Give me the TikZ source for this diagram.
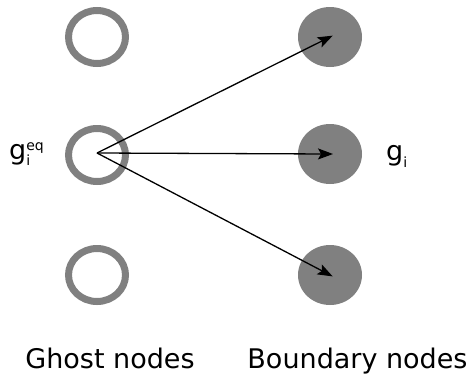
\documentclass[tikz,border=0pt]{standalone}
\usepackage{fontspec}
\setmainfont{DejaVu Sans}
\usetikzlibrary{shapes.geometric,arrows.meta}
\definecolor{nodegray}{HTML}{808080}
\newcommand{\smallidx}[1]{{\fontsize{14}{14}\selectfont #1}}
\begin{document}
\begin{tikzpicture}[x=1pt,y=-1pt,
  ghostnode/.style={ellipse,draw=nodegray,line width=7pt,minimum width=57pt,minimum height=53pt,inner sep=0pt},
  boundnode/.style={ellipse,fill=nodegray,minimum width=64pt,minimum height=60pt,inner sep=0pt},
  flow/.style={line width=1.3pt,-{Stealth[length=15pt,width=11pt,inset=3pt]},shorten >=-3pt},
  lbl/.style={inner sep=0pt,anchor=base,font=\fontsize{27}{31}\selectfont}]
\useasboundingbox (0,0) rectangle (470,378);
% ghost nodes (left column)
\node[ghostnode] (g1) at (97,37) {};
\node[ghostnode] (g2) at (97,155) {};
\node[ghostnode] (g3) at (97,275) {};
% boundary nodes (right column)
\node[boundnode] (b1) at (330,37) {};
\node[boundnode] (b2) at (330,154) {};
\node[boundnode] (b3) at (330,275) {};
% coordinate of the equilibrium source point
\coordinate (src) at (97,153);
\draw[flow] (src) -- (b1.center);
\draw[flow] (src) -- (b2.center);
\draw[flow] (src) -- (b3.center);
% labels
\node[lbl,anchor=base west] (geq) at (9,159) {g\rlap{\raisebox{-6pt}{\smallidx{i}}}\raisebox{9pt}{\smallidx{eq}}};
\node[lbl,anchor=base west] (gi) at (386,160) {g\raisebox{-7pt}{\smallidx{i}}};
\node[lbl] (tg) at (110,368) {Ghost nodes};
\node[lbl] (tb) at (357.5,368) {Boundary nodes};
\end{tikzpicture}
\end{document}
